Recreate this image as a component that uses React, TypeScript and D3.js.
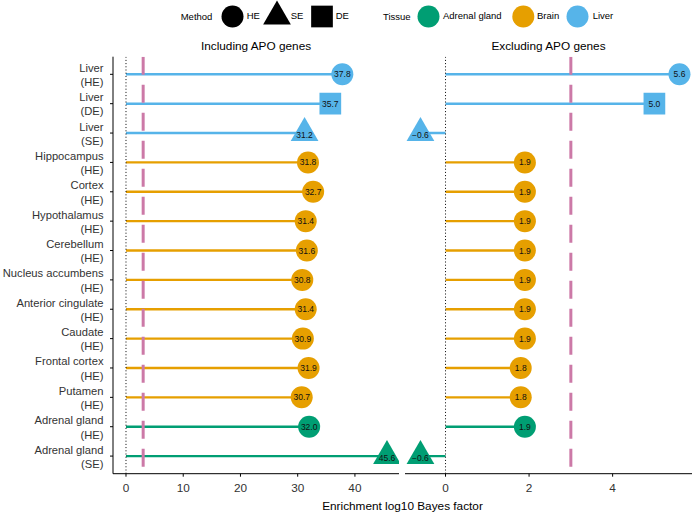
import React from "react";
import * as d3 from "d3";

const tissues = ["Liver", "Liver", "Liver", "Hippocampus", "Cortex", "Hypothalamus", "Cerebellum", "Nucleus accumbens", "Anterior cingulate", "Caudate", "Frontal cortex", "Putamen", "Adrenal gland", "Adrenal gland"];
const methods = ["HE", "DE", "SE", "HE", "HE", "HE", "HE", "HE", "HE", "HE", "HE", "HE", "HE", "SE"];
const groups = ["Liver", "Liver", "Liver", "Brain", "Brain", "Brain", "Brain", "Brain", "Brain", "Brain", "Brain", "Brain", "Adrenal gland", "Adrenal gland"];
const includingAPO = [37.8, 35.7, 31.2, 31.8, 32.7, 31.4, 31.6, 30.8, 31.4, 30.9, 31.9, 30.7, 32.0, 45.6];
const excludingAPO = [5.6, 5.0, -0.6, 1.9, 1.9, 1.9, 1.9, 1.9, 1.9, 1.9, 1.8, 1.8, 1.9, -0.6];
const ticksIncluding = [0, 10, 20, 30, 40];
const ticksExcluding = [0, 2, 4];
const threshold = 3;
const legendMethods = ["HE", "SE", "DE"];
const legendTissues = ["Adrenal gland", "Brain", "Liver"];

const colors: Record<string, string> = {
  "Adrenal gland": "#009E73",
  Brain: "#E69F00",
  Liver: "#56B4E9",
};

const FONT = "'Liberation Sans', Arial, Helvetica, sans-serif";
const FS = 11.8;
const FSY = 11.2;

const rowKeys = tissues.map((t, i) => `${i}`);

const y = d3.scalePoint<string>().domain(rowKeys).range([56.7, 473.7]).padding(0.6);

const xL = d3.scaleLinear().domain([-2.27, 47.7]).range([113, 399]);
const xR = d3.scaleLinear().domain([-0.97, 5.9]).range([405, 692]);

function symbolPath(method: string) {
  if (method === "SE") return d3.symbol(d3.symbolTriangle, 333)()!;
  if (method === "DE") return d3.symbol(d3.symbolSquare, 471)()!;
  return d3.symbol(d3.symbolCircle, 380)()!;
}

function Panel({ x, values, ticks, id }: { x: d3.ScaleLinear<number, number>; values: number[]; ticks: number[]; id: string }) {
  const [r0, r1] = x.range();
  const top = 56.7;
  const bottom = 473.7;
  return (
    <g>
      <defs>
        <clipPath id={id}>
          <rect x={r0} y={top} width={r1 - r0} height={bottom - top} />
        </clipPath>
      </defs>
      <g clipPath={`url(#${id})`}>
        {values.map((v, i) => (
          <line key={"s" + i} x1={x(0)} x2={x(v)} y1={y(rowKeys[i])} y2={y(rowKeys[i])} stroke={colors[groups[i]]} strokeWidth={2.4} />
        ))}
        <line x1={x(0)} x2={x(0)} y1={top} y2={bottom} stroke="#000" strokeWidth={1} strokeDasharray="1,2.2" />
        <line x1={x(threshold)} x2={x(threshold)} y1={top} y2={bottom} stroke="#CC79A7" strokeWidth={3} strokeDasharray="18,10" />
        {values.map((v, i) => (
          <g key={"p" + i} transform={`translate(${x(v)},${y(rowKeys[i])})`}>
            <path d={symbolPath(methods[i])} fill={colors[groups[i]]} />
            <text y={methods[i] === "SE" ? 2 : 0} textAnchor="middle" dominantBaseline="central" fontSize={8.5} fontFamily={FONT} fill="#111">
              {d3.format(".1f")(v).replace("-", "\u2212")}
            </text>
          </g>
        ))}
      </g>
      <line x1={r0} x2={r1} y1={bottom} y2={bottom} stroke="#000" strokeWidth={1} />
      {ticks.map((t) => (
        <g key={t}>
          <line x1={x(t)} x2={x(t)} y1={bottom} y2={bottom + 3} stroke="#000" strokeWidth={1} />
          <text x={x(t)} y={bottom + 14} textAnchor="middle" dominantBaseline="central" fontSize={FS} fontFamily={FONT} fill="#333">
            {t}
          </text>
        </g>
      ))}
    </g>
  );
}

export default function App() {
  const legendY = 16.5;
  const methodX = [232.5, 277, 322];
  const methodTextX = [246.7, 290.7, 335.7];
  const tissueX = [428.5, 523.3, 577.5];
  const tissueTextX = [443, 537, 592.7];
  return (
    <svg width={692} height={512} style={{ position: "absolute", left: 0, top: 0 }}>
      <rect width={692} height={512} fill="#fff" />
      {/* legend */}
      <text x={180.7} y={legendY} dominantBaseline="central" fontSize={9.5} fontFamily={FONT} fill="#000">Method</text>
      {legendMethods.map((m, i) => (
        <g key={m}>
          <path d={symbolPath(m)} transform={`translate(${methodX[i]},${legendY})`} fill="#000" />
          <text x={methodTextX[i]} y={legendY - 1} dominantBaseline="central" fontSize={9.5} fontFamily={FONT} fill="#000">{m}</text>
        </g>
      ))}
      <text x={383} y={legendY} dominantBaseline="central" fontSize={9.5} fontFamily={FONT} fill="#000">Tissue</text>
      {legendTissues.map((t, i) => (
        <g key={t}>
          <path d={symbolPath("HE")} transform={`translate(${tissueX[i]},${legendY})`} fill={colors[t]} />
          <text x={tissueTextX[i]} y={legendY - 1} dominantBaseline="central" fontSize={9.5} fontFamily={FONT} fill="#000">{t}</text>
        </g>
      ))}

      {/* panel titles */}
      <text x={(113 + 399) / 2} y={46} textAnchor="middle" dominantBaseline="central" fontSize={FS} fontFamily={FONT} fill="#000">Including APO genes</text>
      <text x={(405 + 692) / 2} y={46} textAnchor="middle" dominantBaseline="central" fontSize={FS} fontFamily={FONT} fill="#000">Excluding APO genes</text>

      {/* y axis */}
      <line x1={113} x2={113} y1={56.7} y2={473.7} stroke="#000" strokeWidth={1} />
      {rowKeys.map((k, i) => (
        <g key={k}>
          <line x1={110} x2={113} y1={y(k)} y2={y(k)} stroke="#000" strokeWidth={1} />
          <text x={103.5} y={y(k)! - 6.5} textAnchor="end" dominantBaseline="central" fontSize={FSY} fontFamily={FONT} fill="#333">{tissues[i]}</text>
          <text x={103.5} y={y(k)! + 7.8} textAnchor="end" dominantBaseline="central" fontSize={FSY} fontFamily={FONT} fill="#333">({methods[i]})</text>
        </g>
      ))}

      <Panel x={xL} values={includingAPO} ticks={ticksIncluding} id="clipL" />
      <Panel x={xR} values={excludingAPO} ticks={ticksExcluding} id="clipR" />

      <text x={402.5} y={506} textAnchor="middle" dominantBaseline="central" fontSize={FS} fontFamily={FONT} fill="#000">Enrichment log10 Bayes factor</text>
    </svg>
  );
}
